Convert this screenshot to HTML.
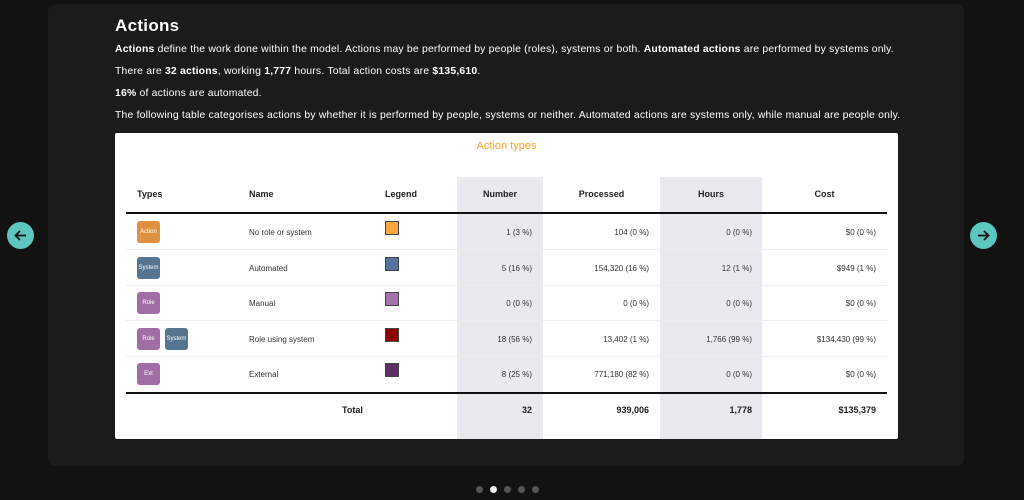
<!DOCTYPE html>
<html><head><style>
body{margin:0;width:1024px;height:500px;background:#121212;position:relative;overflow:hidden;font-family:"Liberation Sans",sans-serif}
.panel{position:absolute;left:48px;top:4px;width:916px;height:462px;background:#1b1b1b;border-radius:8px}
.t{position:absolute;color:#fff;white-space:nowrap}
.p{font-size:10.4px;left:115px;letter-spacing:0.2px}
.card{position:absolute;left:115px;top:133px;width:783px;height:306px;background:#fff;border-radius:2px;overflow:hidden}
.a{position:absolute;white-space:nowrap;font-size:8px;color:#333}
.h{font-weight:bold;font-size:9px;color:#222}
.r{text-align:right}
.c{text-align:center}
.shade{position:absolute;background:#e9eaee;top:44px;height:262px}
.line{position:absolute;left:11px;width:761px;background:#eee;height:1px}
.ico{position:absolute;width:23px;height:22px;border-radius:3px;color:#fff;font-size:6px;text-align:center;line-height:22px}
.sw{position:absolute;width:14px;height:14px;border:1px solid #444;box-sizing:border-box}
.btn{position:absolute;top:222px;width:27px;height:27px;border-radius:50%;background:#5dc6bf}
.btn svg{position:absolute;left:6px;top:6px}
.dot{position:absolute;top:486px;width:7px;height:7px;border-radius:50%;background:#555}
</style></head><body>
<div class="panel"></div>
<div class="t" style="left:115px;top:16px;font-size:17px;font-weight:bold;letter-spacing:0.3px">Actions</div>
<div class="t p" style="top:44px"><b>Actions</b> define the work done within the model. Actions may be performed by people (roles), systems or both. <b>Automated actions</b> are performed by systems only.</div>
<div class="t p" style="top:66px">There are <b>32 actions</b>, working <b>1,777</b> hours. Total action costs are <b>$135,610</b>.</div>
<div class="t p" style="top:88px"><b>16%</b> of actions are automated.</div>
<div class="t p" style="top:110px">The following table categorises actions by whether it is performed by people, systems or neither. Automated actions are systems only, while manual are people only.</div>
<div class="card">
<div class="shade" style="left:342px;width:86px"></div>
<div class="shade" style="left:545px;width:102px"></div>
<div class="a c" style="left:0;width:783px;top:7px;font-size:11px;color:#f5a623">Action types</div>
<div class="a h" style="left:22px;top:56px">Types</div>
<div class="a h" style="left:134px;top:56px">Name</div>
<div class="a h" style="left:270px;top:56px">Legend</div>
<div class="a h c" style="left:342px;width:86px;top:56px">Number</div>
<div class="a h c" style="left:428px;width:117px;top:56px">Processed</div>
<div class="a h c" style="left:545px;width:102px;top:56px">Hours</div>
<div class="a h c" style="left:647px;width:125px;top:56px">Cost</div>
<div class="line" style="top:79px;height:2px;background:#111"></div>
<div class="line" style="top:116px"></div>
<div class="line" style="top:152px"></div>
<div class="line" style="top:187px"></div>
<div class="line" style="top:223px"></div>
<div class="line" style="top:259px;height:2px;background:#111"></div>

<div class="ico" style="left:22px;top:88px;background:#e0913f">Action</div>
<div class="ico" style="left:22px;top:124px;background:#55748f">System</div>
<div class="ico" style="left:22px;top:159px;background:#a06da5">Role</div>
<div class="ico" style="left:22px;top:195px;background:#a06da5">Role</div>
<div class="ico" style="left:50px;top:195px;background:#55748f">System</div>
<div class="ico" style="left:22px;top:230px;background:#a06da5">Ext</div>

<div class="sw" style="left:270px;top:88px;background:#f9a540"></div>
<div class="sw" style="left:270px;top:124px;background:#55759a"></div>
<div class="sw" style="left:270px;top:159px;background:#a473ad"></div>
<div class="sw" style="left:270px;top:195px;background:#8b0000"></div>
<div class="sw" style="left:270px;top:230px;background:#5e2d63"></div>

<div class="a" style="left:134px;top:95px">No role or system</div>
<div class="a" style="left:134px;top:131px">Automated</div>
<div class="a" style="left:134px;top:166px">Manual</div>
<div class="a" style="left:134px;top:202px">Role using system</div>
<div class="a" style="left:134px;top:237px">External</div>

<div class="a r" style="right:366px;top:95px">1 (3 %)</div>
<div class="a r" style="right:366px;top:131px">5 (16 %)</div>
<div class="a r" style="right:366px;top:166px">0 (0 %)</div>
<div class="a r" style="right:366px;top:202px">18 (56 %)</div>
<div class="a r" style="right:366px;top:237px">8 (25 %)</div>

<div class="a r" style="right:249px;top:95px">104 (0 %)</div>
<div class="a r" style="right:249px;top:131px">154,320 (16 %)</div>
<div class="a r" style="right:249px;top:166px">0 (0 %)</div>
<div class="a r" style="right:249px;top:202px">13,402 (1 %)</div>
<div class="a r" style="right:249px;top:237px">771,180 (82 %)</div>

<div class="a r" style="right:146px;top:95px">0 (0 %)</div>
<div class="a r" style="right:146px;top:131px">12 (1 %)</div>
<div class="a r" style="right:146px;top:166px">0 (0 %)</div>
<div class="a r" style="right:146px;top:202px">1,766 (99 %)</div>
<div class="a r" style="right:146px;top:237px">0 (0 %)</div>

<div class="a r" style="right:22px;top:95px">$0 (0 %)</div>
<div class="a r" style="right:22px;top:131px">$949 (1 %)</div>
<div class="a r" style="right:22px;top:166px">$0 (0 %)</div>
<div class="a r" style="right:22px;top:202px">$134,430 (99 %)</div>
<div class="a r" style="right:22px;top:237px">$0 (0 %)</div>

<div class="a h" style="left:227px;top:272px">Total</div>
<div class="a h r" style="right:366px;top:272px">32</div>
<div class="a h r" style="right:249px;top:272px">939,006</div>
<div class="a h r" style="right:146px;top:272px">1,778</div>
<div class="a h r" style="right:22px;top:272px">$135,379</div>
</div>
<div class="btn" style="left:7px"><svg width="15" height="15" viewBox="0 0 15 15"><path d="M13 7.5H2.5M7 3L2.5 7.5 7 12" stroke="#111" stroke-width="1.8" fill="none"/></svg></div>
<div class="btn" style="left:970px"><svg width="15" height="15" viewBox="0 0 15 15"><path d="M2 7.5H12.5M8 3l4.5 4.5L8 12" stroke="#111" stroke-width="1.8" fill="none"/></svg></div>
<div class="dot" style="left:476px"></div>
<div class="dot" style="left:490px;background:#eee"></div>
<div class="dot" style="left:504px"></div>
<div class="dot" style="left:518px"></div>
<div class="dot" style="left:532px"></div>
</body></html>
